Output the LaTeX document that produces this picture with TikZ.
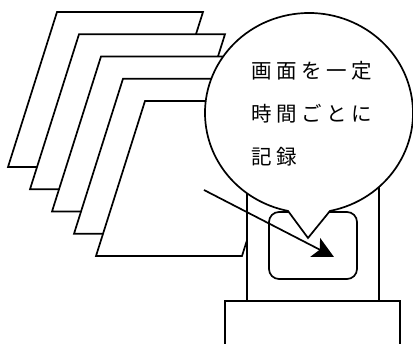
\documentclass[tikz,border=0pt]{standalone}
\usepackage{fontspec}
\newfontfamily\jpfont[LetterSpace=22]{Noto Sans CJK JP}
\usetikzlibrary{arrows.meta}
\tikzset{
  sheet/.style={draw, fill=white, line width=1.7pt, line join=miter},
  box/.style={draw, fill=white, line width=1.7pt},
  screen/.style={draw, fill=white, line width=1.7pt, rounded corners=10pt},
  bubble/.style={draw, fill=white, line width=1.7pt, line join=miter},
  memo/.style={anchor=base west, inner sep=0pt, font=\jpfont\fontsize{20.5}{20.5}\selectfont},
  arr/.style={-{Stealth[length=21pt, width=21pt, inset=5pt]}, line width=1.7pt},
}

\begin{document}
\begin{tikzpicture}[x=1pt, y=-1pt]
  \useasboundingbox (0,0) rectangle (413,344);

  % stack of captured frames, back to front
  \foreach \i in {0,...,4} {
    \draw[sheet, shift={(22*\i,22.25*\i)}] (57,12) -- (203,12) -- (154,167) -- (8,167) -- cycle;
  }

  % recorder body and stand
  \draw[box] (247,150) rectangle (379,301);
  \draw[box] (225,350) |- (400,301) -- (400,350);
  \draw[screen] (269,212) rectangle (357,279);

  % speech bubble
  \coordinate (c) at (309,113);
  \coordinate (tip) at (308,238);
  \draw[bubble] (c) ++(78.35:104 and 100)
    arc[start angle=78.35, end angle=-258.35, x radius=104, y radius=100]
    -- (tip) -- cycle;
  \node[memo] (l1) at (251,79) {画面を一定};
  \node[memo] (l2) at (251,122) {時間ごとに};
  \node[memo] (l3) at (251,165) {記録};

  % frame goes into the screen
  \coordinate (from) at (204,190);
  \coordinate (to) at (334,257);
  \draw[arr] (from) -- (to);
\end{tikzpicture}
\end{document}
